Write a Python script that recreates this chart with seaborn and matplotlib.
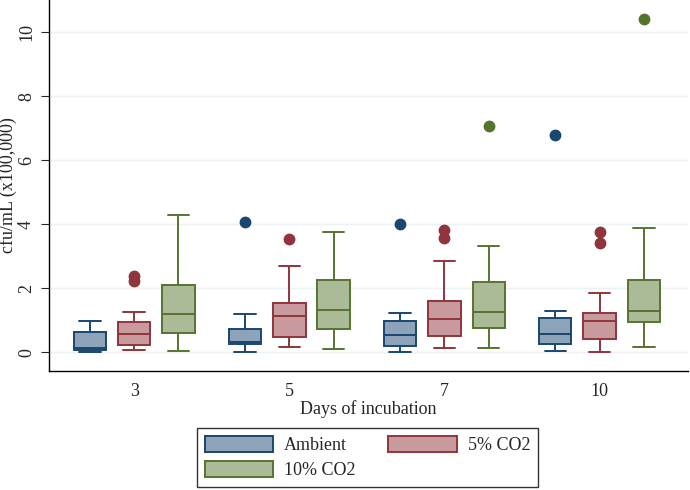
import numpy as np
import pandas as pd
import seaborn as sns
import matplotlib.pyplot as plt
from matplotlib.patches import Patch

# values (cfu/mL x100,000)
days = ["3", "5", "7", "10"]
conditions = ["Ambient", "5% CO2", "10% CO2"]

# per condition, one entry per day
whisker_lo = {
    "Ambient": [0.02, 0.02, 0.02, 0.03],
    "5% CO2": [0.07, 0.17, 0.14, 0.02],
    "10% CO2": [0.05, 0.10, 0.12, 0.15],
}
q1 = {
    "Ambient": [0.07, 0.26, 0.20, 0.26],
    "5% CO2": [0.24, 0.49, 0.51, 0.42],
    "10% CO2": [0.61, 0.72, 0.77, 0.94],
}
median = {
    "Ambient": [0.12, 0.31, 0.55, 0.56],
    "5% CO2": [0.56, 1.12, 1.03, 0.99],
    "10% CO2": [1.20, 1.33, 1.27, 1.30],
}
q3 = {
    "Ambient": [0.62, 0.73, 0.99, 1.06],
    "5% CO2": [0.94, 1.55, 1.59, 1.22],
    "10% CO2": [2.10, 2.26, 2.20, 2.26],
}
whisker_hi = {
    "Ambient": [0.98, 1.19, 1.23, 1.30],
    "5% CO2": [1.27, 2.71, 2.85, 1.84],
    "10% CO2": [4.30, 3.75, 3.33, 3.89],
}
outliers = {
    "Ambient": [[], [4.08], [4.00], [6.79]],
    "5% CO2": [[2.24, 2.38], [3.53], [3.58, 3.82], [3.43, 3.75]],
    "10% CO2": [[], [], [7.07], [10.43]],
}

edge_colors = {"Ambient": "#1a476f", "5% CO2": "#90353b", "10% CO2": "#55752f"}
fill_colors = {"Ambient": "#8ca3b9", "5% CO2": "#c89a9e", "10% CO2": "#abba97"}

# build observations so that the quartiles/whiskers come out as read
rows = []
for c in conditions:
    for i, d in enumerate(days):
        k = len(outliers[c][i]) + 1
        vals = ([whisker_lo[c][i]] + [q1[c][i]] * k + [median[c][i]] * k
                + [q3[c][i]] * k + [whisker_hi[c][i]] + outliers[c][i])
        for v in vals:
            rows.append({"day": d, "cond": c, "cfu": v})
df = pd.DataFrame(rows)

sns.set_style("white")
plt.rcParams['font.family'] = ['Liberation Serif', 'DejaVu Serif']
plt.rcParams['font.size'] = 13

fig = plt.figure(figsize=(6.9, 4.9), dpi=100)
ax = fig.add_axes([0.071, 0.2435, 0.926, 0.7565])

for y in range(0, 11, 2):
    ax.axhline(y, color="#eaf2f3", lw=1.0, zorder=0)

box_w = 0.855 / 3 * (1 - 0.27)
for c in conditions:
    sub = df[df["cond"] == c]
    sns.boxplot(data=sub, x="day", y="cfu", hue="cond", hue_order=conditions,
                order=days, palette=fill_colors, saturation=1, width=0.855,
                gap=0.27, dodge=True, linecolor=edge_colors[c], linewidth=1.4,
                whis=1.5, legend=False, ax=ax,
                flierprops=dict(marker="o", markersize=7.5,
                                markerfacecolor=edge_colors[c],
                                markeredgecolor=edge_colors[c]))

# widen the whisker caps a bit (Stata style)
for ln in ax.lines:
    xd = np.asarray(ln.get_xdata(), dtype=float)
    yd = np.asarray(ln.get_ydata(), dtype=float)
    if len(xd) == 2 and yd[0] == yd[1] and 0 < abs(xd[1] - xd[0]) < 0.8 * box_w:
        mid = xd.mean()
        half = box_w * 0.67 / 2
        ln.set_xdata([mid - half, mid + half])

ax.set_xlim(-0.55, 3.57)
ax.set_ylim(-0.576, 11.01)
ax.set_yticks([0, 2, 4, 6, 8, 10])
ax.set_yticklabels(["0", "2", "4", "6", "8", "10"], rotation=90, va="center")
ax.tick_params(axis="y", direction="out", length=6, width=0.8, left=True, pad=4)
ax.tick_params(axis="x", length=0, pad=9)
ax.set_xlabel("Days of incubation", labelpad=0)
ax.set_ylabel("cfu/mL (x100,000)")
ax.yaxis.set_label_coords(-0.050, 0.5)
for s in ["top", "right"]:
    ax.spines[s].set_visible(False)
for s in ["left", "bottom"]:
    ax.spines[s].set_color("black")
    ax.spines[s].set_linewidth(1.0)

handles = [Patch(facecolor=fill_colors[c], edgecolor=edge_colors[c], lw=1.4, label=c)
           for c in ["Ambient", "10% CO2", "5% CO2"]]
leg = fig.legend(handles=handles, loc="upper center", bbox_to_anchor=(0.5326, 0.1265),
                 ncol=2, frameon=True, fancybox=False, edgecolor="black",
                 handlelength=3.8, handleheight=0.95, columnspacing=1.8,
                 borderpad=0.45, labelspacing=0.4, handletextpad=0.6,
                 borderaxespad=0)
leg.get_frame().set_linewidth(1.0)

fig.savefig("out.png", dpi=100)
